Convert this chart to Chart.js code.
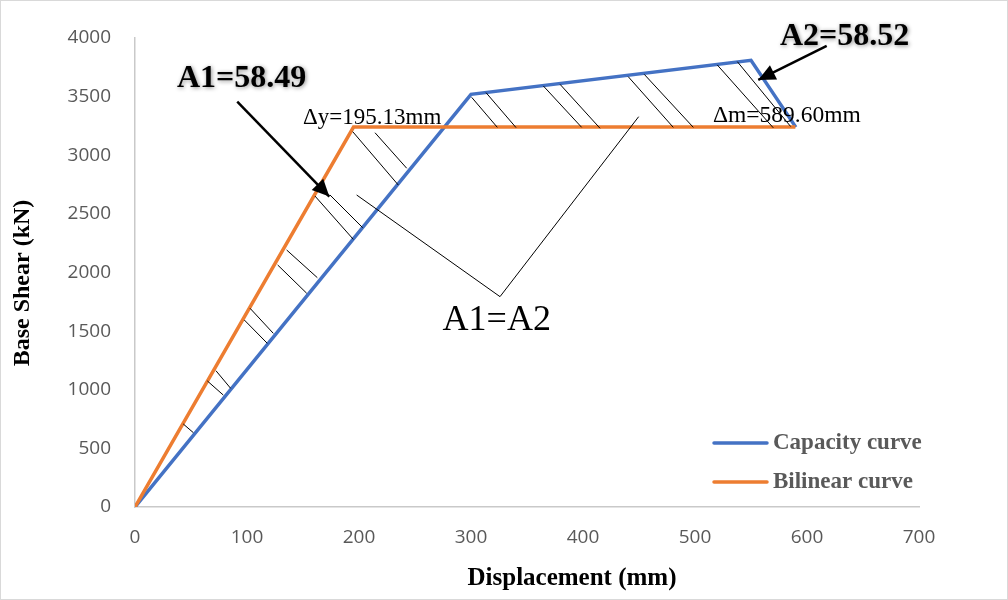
<!DOCTYPE html>
<html>
<head>
<meta charset="utf-8">
<script src="https://cdn.jsdelivr.net/npm/chart.js@4.4.1/dist/chart.umd.min.js"></script>
<style>
  html, body { margin: 0; padding: 0; background: #fff; }
  #wrap { width: 1008px; height: 600px; position: relative; }
</style>
</head>
<body>
<div id="wrap"><canvas id="pushoverChart"></canvas></div>
<script>
// displacement (mm) / base shear (kN)
const capacityX = [0, 300, 550, 590];
const capacityY = [0, 3520, 3810, 3240];
const bilinearX = [0, 195.13, 589.6];
const bilinearY = [0, 3240, 3240];

const xTicks = [0, 100, 200, 300, 400, 500, 600, 700];
const yTicks = [0, 500, 1000, 1500, 2000, 2500, 3000, 3500, 4000];

// hatch strokes between the two curves: [x1, y1, x2, y2]
const hatchLines = [
  [194.4, 3201, 235.1, 2746],
  [214.3, 3192, 242.6, 2889],
  [174.1, 2661, 203.3, 2382],
  [160.7, 2652, 194.9, 2283],
  [135.4, 2192, 162.8, 1956],
  [127.4, 2064, 153.3, 1823],
  [102.7, 1695, 123.5, 1481],
  [97.6, 1595, 118.1, 1396],
  [72.3, 1162, 85.4, 1012],
  [64.6, 1075, 78.8, 955],
  [43.1, 708, 52.1, 634],
  [300.6, 3494, 323.5, 3238],
  [313.4, 3534, 340.2, 3236],
  [364.6, 3591, 398.8, 3238],
  [379.5, 3605, 415.2, 3230],
  [440.4, 3670, 480.6, 3238],
  [454.7, 3690, 498.5, 3238],
  [519.9, 3770, 569.9, 3234],
  [537.8, 3798, 585.4, 3245]
];

// "A1=A2" pointer (two legs meeting under the label)
const pointerX = [197.9, 325.9, 449.7];
const pointerY = [2661, 1794, 3329];

// arrows: [fromX, fromY, toX, toY]
const arrowA1 = [91.3, 3457, 173.5, 2648];
const arrowA2 = [617.6, 3932, 556.5, 3642];

const seriesNames = ['Capacity curve', 'Bilinear curve'];
const seriesColors = ['#4472C4', '#ED7D31'];

(function() {
    const ctx = document.getElementById('pushoverChart');
    if (!ctx) return;

    const toPoints = (xs, ys) => xs.map((x, i) => ({ x: x, y: ys[i] }));

    const thinLine = (data, width) => ({
        label: '',
        data: data,
        borderColor: '#000',
        borderWidth: width,
        pointRadius: 0,
        fill: false,
        tension: 0
    });

    const datasets = [];
    hatchLines.forEach(h => datasets.push(thinLine([{ x: h[0], y: h[1] }, { x: h[2], y: h[3] }], 1)));
    datasets.push(thinLine(toPoints(pointerX, pointerY), 1));
    datasets.push(thinLine([{ x: arrowA1[0], y: arrowA1[1] }, { x: arrowA1[2], y: arrowA1[3] }], 2.5));
    datasets.push(thinLine([{ x: arrowA2[0], y: arrowA2[1] }, { x: arrowA2[2], y: arrowA2[3] }], 2.5));

    datasets.push({
        label: seriesNames[1],
        data: toPoints(bilinearX, bilinearY),
        borderColor: seriesColors[1],
        borderWidth: 3.5,
        pointRadius: 0,
        tension: 0
    });
    datasets.push({
        label: seriesNames[0],
        data: toPoints(capacityX, capacityY),
        borderColor: seriesColors[0],
        borderWidth: 3.5,
        pointRadius: 0,
        tension: 0
    });

    const serif = '"Liberation Serif", "Times New Roman", serif';

    const annotations = [
        { text: 'A1=58.49', x: 37.5, y: 3582, font: 'bold 32px ' + serif, align: 'left', glow: true },
        { text: 'A2=58.52', x: 575.9, y: 3940, font: 'bold 32px ' + serif, align: 'left', glow: true },
        { text: '\u0394y=195.13mm', x: 150, y: 3267, font: '23px ' + serif, align: 'left' },
        { text: '\u0394m=589.60mm', x: 516, y: 3284, font: '23.5px ' + serif, align: 'left' },
        { text: 'A1=A2', x: 323, y: 1510, font: '36px ' + serif, align: 'center' }
    ];

    function arrowHead(c, xs, ys, a) {
        const x1 = xs.getPixelForValue(a[0]), y1 = ys.getPixelForValue(a[1]);
        const x2 = xs.getPixelForValue(a[2]), y2 = ys.getPixelForValue(a[3]);
        const ang = Math.atan2(y2 - y1, x2 - x1);
        const len = 17, half = 8;
        const bx = x2 - len * Math.cos(ang), by = y2 - len * Math.sin(ang);
        c.beginPath();
        c.moveTo(x2, y2);
        c.lineTo(bx + half * Math.sin(ang), by - half * Math.cos(ang));
        c.lineTo(bx - half * Math.sin(ang), by + half * Math.cos(ang));
        c.closePath();
        c.fillStyle = '#000';
        c.fill();
    }

    const decorations = {
        id: 'decorations',
        beforeDraw(chart) {
            const c = chart.ctx;
            c.save();
            c.fillStyle = '#fff';
            c.fillRect(0, 0, chart.width, chart.height);
            c.restore();
        },
        afterDraw(chart) {
            const c = chart.ctx;
            const xs = chart.scales.x, ys = chart.scales.y;
            c.save();

            arrowHead(c, xs, ys, arrowA1);
            arrowHead(c, xs, ys, arrowA2);

            c.textBaseline = 'alphabetic';
            annotations.forEach(a => {
                c.save();
                c.font = a.font;
                c.textAlign = a.align;
                c.fillStyle = '#000';
                if (a.glow) {
                    c.shadowColor = 'rgba(0,0,0,0.45)';
                    c.shadowBlur = 4;
                    c.shadowOffsetX = 1;
                    c.shadowOffsetY = 1;
                }
                c.fillText(a.text, xs.getPixelForValue(a.x), ys.getPixelForValue(a.y));
                c.restore();
            });

            // axis titles
            c.fillStyle = '#000';
            c.font = 'bold 25px ' + serif;
            c.textAlign = 'center';
            c.textBaseline = 'middle';
            c.fillText('Displacement (mm)', 572, 579);
            c.save();
            c.translate(23, 283);
            c.rotate(-Math.PI / 2);
            c.font = 'bold 24px ' + serif;
            c.fillText('Base Shear (kN)', 0, 0);
            c.restore();

            // legend
            c.font = 'bold 23px ' + serif;
            c.textAlign = 'left';
            c.textBaseline = 'middle';
            seriesNames.forEach((name, i) => {
                const y = 443 + i * 39;
                c.strokeStyle = seriesColors[i];
                c.lineWidth = 3.5;
                c.lineCap = 'round';
                c.beginPath();
                c.moveTo(714, y);
                c.lineTo(767, y);
                c.stroke();
                c.fillStyle = '#595959';
                c.fillText(name, 773, y);
            });

            // outer frame
            c.strokeStyle = '#d9d9d9';
            c.lineWidth = 1;
            c.strokeRect(0.5, 0.5, chart.width - 1, chart.height - 1);
            c.restore();
        }
    };

    const tickFont = { family: '"Open Sans", "Liberation Sans", sans-serif', size: 19 };

    new Chart(ctx, {
        type: 'line',
        data: { datasets: datasets },
        options: {
            responsive: true,
            maintainAspectRatio: false,
            animation: false,
            layout: { padding: { left: 0, top: 38, right: 89, bottom: 0 } },
            plugins: {
                legend: { display: false },
                tooltip: { enabled: false }
            },
            scales: {
                x: {
                    type: 'linear',
                    min: 0,
                    max: 700,
                    afterBuildTicks: s => { s.ticks = xTicks.map(v => ({ value: v })); },
                    afterFit: s => { s.height = 93; },
                    grid: { display: false, drawTicks: false },
                    border: { display: true, color: '#c9c9c9', width: 1.5 },
                    ticks: { color: '#595959', font: tickFont, padding: 19, maxRotation: 0, callback: v => String(v) }
                },
                y: {
                    type: 'linear',
                    min: 0,
                    max: 4000,
                    afterBuildTicks: s => { s.ticks = yTicks.map(v => ({ value: v })); },
                    afterFit: s => { s.width = 135; },
                    grid: { display: false, drawTicks: false },
                    border: { display: true, color: '#c9c9c9', width: 1.5 },
                    ticks: { color: '#595959', font: tickFont, padding: 24, callback: v => String(v) }
                }
            }
        },
        plugins: [decorations]
    });
})();
</script>
</body>
</html>
